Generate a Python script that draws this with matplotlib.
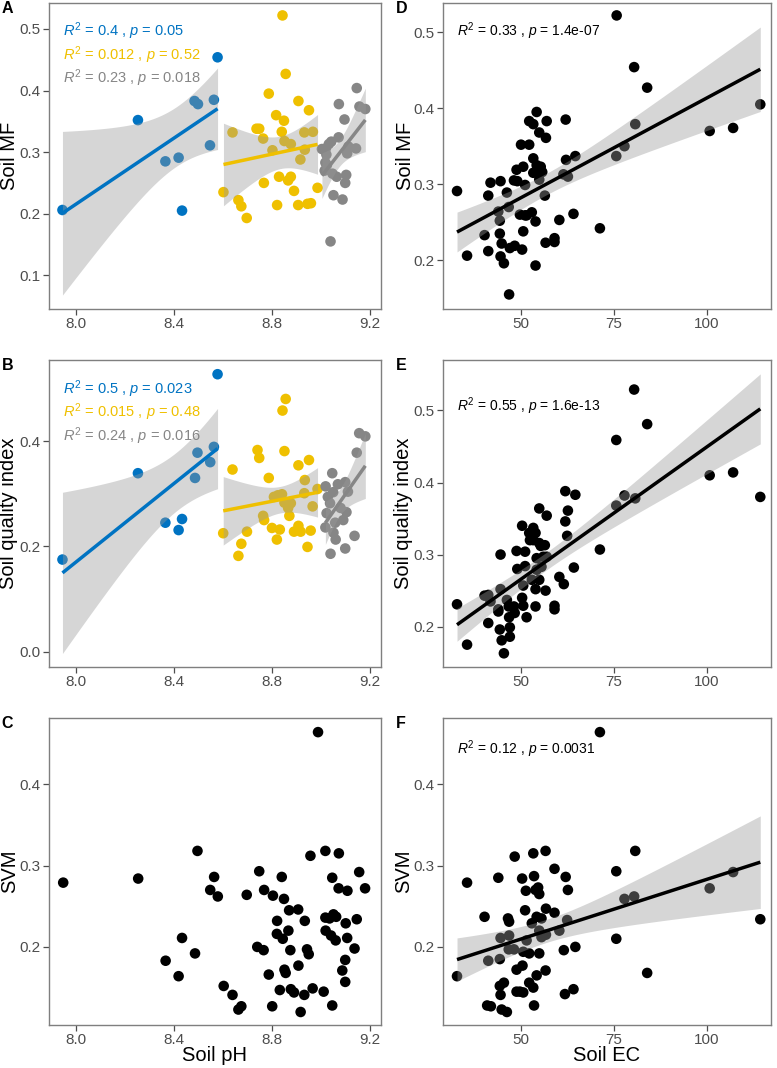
import numpy as np
import matplotlib
matplotlib.use("Agg")
import matplotlib.pyplot as plt

plt.rcParams['font.family'] = ['Liberation Sans', 'DejaVu Sans']
plt.rcParams['mathtext.fontset'] = 'custom'
plt.rcParams['mathtext.rm'] = 'Liberation Sans'
plt.rcParams['mathtext.it'] = 'Liberation Sans:italic'

# ---- panel A : soil pH vs soil MF (three pH groups) ----
ph_A_blue = [7.944, 8.252, 8.364, 8.418, 8.432, 8.483, 8.497, 8.546, 8.562, 8.577]
mf_A_blue = [0.206, 0.352, 0.285, 0.291, 0.205, 0.383, 0.378, 0.311, 0.385, 0.454]
ph_A_yel = [8.842, 8.855, 8.786, 8.907, 8.950, 8.816, 8.848, 8.736, 8.747, 8.839, 8.638,
            8.931, 8.966, 8.763, 8.850, 8.876, 8.801, 8.933, 8.915, 8.828, 8.876, 8.865,
            8.766, 8.889, 8.601, 8.985, 8.662, 8.674, 8.820, 8.906, 8.944, 8.958, 8.696]
mf_A_yel = [0.522, 0.427, 0.395, 0.383, 0.368, 0.360, 0.351, 0.338, 0.338, 0.333, 0.332,
            0.332, 0.333, 0.322, 0.318, 0.313, 0.303, 0.304, 0.288, 0.260, 0.260, 0.254,
            0.250, 0.237, 0.235, 0.242, 0.222, 0.212, 0.214, 0.214, 0.216, 0.217, 0.193]
ph_A_gry = [9.145, 9.072, 9.156, 9.180, 9.095, 9.071, 9.041, 9.031, 9.019, 9.003, 9.142, 9.111,
            9.106, 9.021, 9.017, 9.023, 9.014, 9.046, 9.063, 9.102, 9.098, 9.050, 9.087, 9.038]
mf_A_gry = [0.404, 0.378, 0.374, 0.370, 0.353, 0.324, 0.317, 0.313, 0.306, 0.305, 0.306, 0.309,
            0.298, 0.296, 0.283, 0.279, 0.270, 0.265, 0.260, 0.263, 0.250, 0.230, 0.223, 0.155]

# ---- panel B : soil pH vs soil quality index ----
ph_B_blue = [7.944, 8.252, 8.364, 8.418, 8.432, 8.485, 8.495, 8.547, 8.562, 8.577]
sqi_B_blue = [0.175, 0.339, 0.245, 0.231, 0.252, 0.330, 0.378, 0.360, 0.389, 0.527]
ph_B_yel = [8.855, 8.842, 8.740, 8.747, 8.850, 8.638, 8.950, 8.907, 8.786, 8.933, 8.985, 8.931,
            8.807, 8.823, 8.840, 8.850, 8.876, 8.865, 8.965, 8.763, 8.870, 8.767, 8.799, 8.831,
            8.600, 8.697, 8.889, 8.907, 8.916, 8.957, 8.674, 8.819, 8.944, 8.662]
sqi_B_yel = [0.480, 0.458, 0.383, 0.368, 0.381, 0.346, 0.364, 0.354, 0.330, 0.326, 0.309, 0.301,
             0.294, 0.297, 0.299, 0.283, 0.282, 0.273, 0.276, 0.258, 0.258, 0.250, 0.235, 0.232,
             0.225, 0.228, 0.228, 0.239, 0.228, 0.230, 0.205, 0.213, 0.199, 0.182]
ph_B_gry = [9.155, 9.180, 9.145, 9.045, 9.018, 9.068, 9.098, 9.109, 9.027, 9.036, 9.079,
            9.022, 9.103, 9.057, 9.090, 9.017, 9.050, 9.059, 9.136, 9.098, 9.038, 9.049]
sqi_B_gry = [0.415, 0.409, 0.378, 0.339, 0.314, 0.318, 0.322, 0.304, 0.294, 0.282, 0.273,
             0.263, 0.265, 0.245, 0.250, 0.236, 0.226, 0.213, 0.220, 0.196, 0.186, 0.303]

# ---- panel C : soil pH vs SVM ----
ph_C = [7.947, 8.253, 8.495, 8.563, 8.547, 8.578, 8.432, 8.485, 8.365, 8.418, 8.696, 8.602,
        8.638, 8.674, 8.662, 8.747, 8.767, 8.803, 8.839, 8.848, 8.869, 8.906, 8.933, 8.820,
        8.819, 8.843, 8.866, 8.739, 8.765, 8.874, 8.942, 8.949, 8.850, 8.855, 8.907, 8.786,
        8.831, 8.876, 8.889, 8.931, 8.965, 8.800, 8.916, 8.987, 8.956, 9.017, 9.072, 9.045,
        9.071, 9.107, 9.155, 9.179, 9.017, 9.034, 9.050, 9.061, 9.100, 9.145, 9.018, 9.040,
        9.059, 9.106, 9.136, 9.098, 9.086, 9.098, 9.010, 9.045]
svm_C = [0.279, 0.284, 0.318, 0.286, 0.270, 0.262, 0.211, 0.192, 0.183, 0.164, 0.264, 0.152,
         0.141, 0.127, 0.123, 0.293, 0.270, 0.263, 0.286, 0.259, 0.245, 0.246, 0.232, 0.232,
         0.216, 0.210, 0.220, 0.200, 0.196, 0.196, 0.197, 0.191, 0.172, 0.168, 0.177, 0.166,
         0.147, 0.148, 0.144, 0.141, 0.149, 0.127, 0.120, 0.464, 0.312, 0.318, 0.315, 0.285,
         0.272, 0.269, 0.292, 0.272, 0.236, 0.235, 0.240, 0.237, 0.229, 0.234, 0.220, 0.214,
         0.208, 0.211, 0.198, 0.184, 0.171, 0.157, 0.145, 0.128]

# ---- panel D : soil EC vs soil MF ----
ec_D = [32.9, 35.6, 40.3, 41.3, 41.3, 41.9, 44.6, 44.0, 44.4, 44.4, 44.9, 44.6, 45.5, 46.3,
        46.8, 47.1, 46.9, 48.2, 48.9, 49.1, 48.4, 50.4, 50.1, 52.3, 50.7, 51.2, 50.7, 49.8,
        51.2, 51.6, 53.0, 54.0, 54.0, 52.3, 53.4, 54.3, 55.0, 56.8, 57.0, 53.4, 54.3, 55.4,
        53.4, 54.7, 55.8, 55.0, 56.5, 56.7, 59.1, 59.1, 60.4, 62.1, 62.2, 61.5, 62.7, 64.7,
        64.2, 71.3, 75.7, 75.8, 77.9, 80.5, 80.8, 84.0, 100.8, 107.1, 114.4]
mf_D = [0.291, 0.206, 0.233, 0.285, 0.212, 0.302, 0.304, 0.264, 0.252, 0.235, 0.222, 0.205,
        0.196, 0.289, 0.270, 0.216, 0.155, 0.305, 0.319, 0.304, 0.219, 0.214, 0.352, 0.352,
        0.323, 0.299, 0.238, 0.260, 0.259, 0.259, 0.263, 0.251, 0.193, 0.383, 0.379, 0.395,
        0.368, 0.361, 0.383, 0.334, 0.325, 0.323, 0.315, 0.315, 0.316, 0.306, 0.285, 0.223,
        0.229, 0.224, 0.253, 0.385, 0.332, 0.313, 0.310, 0.337, 0.261, 0.242, 0.337, 0.522,
        0.350, 0.454, 0.379, 0.427, 0.370, 0.374, 0.405]

# ---- panel E : soil EC vs soil quality index ----
ec_E = [32.9, 35.6, 40.3, 41.3, 41.9, 41.3, 44.6, 44.6, 44.0, 44.0, 44.4, 44.9, 45.5, 46.3,
        46.8, 46.9, 47.1, 47.1, 48.2, 48.4, 48.9, 49.1, 50.4, 50.7, 50.4, 50.7, 51.2, 51.2,
        51.6, 52.3, 52.5, 53.0, 53.4, 53.4, 54.0, 54.0, 54.0, 54.3, 54.3, 55.0, 55.0, 55.0,
        55.4, 55.6, 56.1, 56.5, 56.7, 57.0, 57.0, 59.1, 59.1, 60.4, 61.6, 62.0, 62.0, 62.7,
        62.5, 64.7, 64.3, 71.3, 75.7, 75.7, 77.9, 80.5, 80.8, 84.0, 100.8, 107.1, 114.4]
sqi_E = [0.231, 0.175, 0.243, 0.244, 0.235, 0.205, 0.300, 0.252, 0.224, 0.221, 0.196, 0.181,
         0.163, 0.237, 0.228, 0.213, 0.199, 0.186, 0.228, 0.219, 0.305, 0.280, 0.240, 0.229,
         0.340, 0.257, 0.304, 0.284, 0.213, 0.330, 0.320, 0.265, 0.337, 0.320, 0.330, 0.228,
         0.252, 0.295, 0.279, 0.364, 0.316, 0.265, 0.312, 0.283, 0.297, 0.313, 0.250, 0.354,
         0.297, 0.229, 0.224, 0.269, 0.259, 0.388, 0.346, 0.361, 0.326, 0.383, 0.282, 0.307,
         0.459, 0.368, 0.382, 0.529, 0.378, 0.481, 0.410, 0.414, 0.380]

# ---- panel F : soil EC vs SVM ----
ec_F = [32.9, 35.6, 40.3, 41.3, 41.0, 42.0, 44.0, 44.6, 44.4, 44.4, 44.6, 45.5, 44.9, 46.3,
        46.6, 46.9, 46.9, 46.8, 48.2, 48.4, 48.9, 48.9, 50.4, 50.5, 50.7, 49.8, 50.7, 51.2,
        51.4, 51.6, 52.3, 52.3, 53.0, 53.4, 53.4, 53.6, 53.6, 54.0, 54.3, 54.3, 54.7, 55.0,
        55.0, 55.0, 55.6, 55.6, 56.7, 56.8, 56.8, 56.7, 59.1, 59.1, 60.4, 61.6, 62.1, 61.9,
        62.7, 62.5, 64.2, 64.7, 71.3, 75.7, 75.7, 77.9, 80.5, 80.8, 84.0, 100.8, 107.1, 114.4]
svm_F = [0.164, 0.279, 0.237, 0.183, 0.128, 0.127, 0.285, 0.211, 0.185, 0.152, 0.141, 0.156,
         0.123, 0.120, 0.235, 0.231, 0.214, 0.197, 0.197, 0.311, 0.172, 0.145, 0.284, 0.177,
         0.194, 0.145, 0.144, 0.245, 0.269, 0.208, 0.192, 0.156, 0.229, 0.315, 0.150, 0.128,
         0.287, 0.270, 0.237, 0.165, 0.273, 0.265, 0.220, 0.192, 0.235, 0.212, 0.318, 0.215,
         0.247, 0.171, 0.296, 0.242, 0.220, 0.196, 0.286, 0.142, 0.270, 0.233, 0.148, 0.200,
         0.464, 0.293, 0.210, 0.259, 0.262, 0.318, 0.168, 0.272, 0.292, 0.234]

# stat labels as printed on the figure
lab_A = [('0.4', '0.05'), ('0.012', '0.52'), ('0.23', '0.018')]
lab_B = [('0.5', '0.023'), ('0.015', '0.48'), ('0.24', '0.016')]
lab_D = ('0.33', '1.4e-07')
lab_E = ('0.55', '1.6e-13')
lab_F = ('0.12', '0.0031')

BLUE, YEL, GRY = '#0073C2', '#EFC000', '#868686'
W, H = 777, 1068


def tcrit(df):
    # 97.5% quantile of Student t (Cornish-Fisher expansion)
    z = 1.959964
    return (z + (z**3 + z) / (4 * df) + (5 * z**5 + 16 * z**3 + 3 * z) / (96 * df**2)
            + (3 * z**7 + 19 * z**5 + 17 * z**3 - 15 * z) / (384 * df**3))


def smooth(ax, x, y, color):
    x = np.asarray(x); y = np.asarray(y)
    n = len(x)
    b, a = np.polyfit(x, y, 1)
    res = y - (a + b * x)
    s = np.sqrt(np.sum(res**2) / (n - 2))
    sxx = np.sum((x - x.mean())**2)
    xs = np.linspace(x.min(), x.max(), 80)
    ys = a + b * xs
    se = s * np.sqrt(1 / n + (xs - x.mean())**2 / sxx)
    t = tcrit(n - 2)
    ax.fill_between(xs, ys - t * se, ys + t * se, color='#999999', alpha=0.4, lw=0, zorder=3)
    ax.plot(xs, ys, color=color, lw=2.5, zorder=4, solid_capstyle='butt')


def stat_text(r2, p):
    return r'$\mathit{R}^{2}$ = ' + r2 + r' , $\mathit{p}$ = ' + p


def make_ax(fig, left, top, right, bottom):
    ax = fig.add_axes([left / W, 1 - bottom / H, (right - left) / W, (bottom - top) / H])
    for sp in ax.spines.values():
        sp.set_color('#7F7F7F')
        sp.set_linewidth(1.0)
    ax.tick_params(axis='both', colors='#4D4D4D', labelsize=11, length=4, width=0.9, pad=2)
    ax.set_facecolor('white')
    return ax


fig = plt.figure(figsize=(W / 100, H / 100), dpi=100)

L1, R1, L2, R2 = 48.5, 381.0, 442.5, 770.7
rows = [(2.5, 308.5), (360.0, 666.7), (718.3, 1025.0)]
PT = 58

axA = make_ax(fig, L1, rows[0][0], R1, rows[0][1])
axB = make_ax(fig, L1, rows[1][0], R1, rows[1][1])
axC = make_ax(fig, L1, rows[2][0], R1, rows[2][1])
axD = make_ax(fig, L2, rows[0][0], R2, rows[0][1])
axE = make_ax(fig, L2, rows[1][0], R2, rows[1][1])
axF = make_ax(fig, L2, rows[2][0], R2, rows[2][1])

# grouped pH panels
for ax, groups, labs in [
    (axA, [(ph_A_blue, mf_A_blue, BLUE), (ph_A_yel, mf_A_yel, YEL), (ph_A_gry, mf_A_gry, GRY)], lab_A),
    (axB, [(ph_B_blue, sqi_B_blue, BLUE), (ph_B_yel, sqi_B_yel, YEL), (ph_B_gry, sqi_B_gry, GRY)], lab_B),
]:
    for x, y, c in groups:
        ax.scatter(x, y, s=PT, color=c, edgecolors='none', zorder=2)
    for x, y, c in groups:
        smooth(ax, x, y, c)
    for i, ((x, y, c), (r2, p)) in enumerate(zip(groups, labs)):
        ax.text(0.045, 0.905 - i * 0.076, stat_text(r2, p), color=c, fontsize=10.5,
                transform=ax.transAxes, va='center', ha='left')

axC.scatter(ph_C, svm_C, s=PT, color='black', edgecolors='none', zorder=2)

for ax, x, y, lab in [(axD, ec_D, mf_D, lab_D), (axE, ec_E, sqi_E, lab_E), (axF, ec_F, svm_F, lab_F)]:
    ax.scatter(x, y, s=PT, color='black', edgecolors='none', zorder=2)
    smooth(ax, x, y, 'black')
    ax.text(0.044, 0.905, stat_text(*lab), color='black', fontsize=10,
            transform=ax.transAxes, va='center', ha='left')
axE.texts[0].set_y(0.85)
axF.texts[0].set_y(0.90)

# axes ranges and ticks
for ax in (axA, axB, axC):
    ax.set_xlim(7.887, 9.244)
    ax.set_xticks([8.0, 8.4, 8.8, 9.2])
    ax.set_xticklabels(['8.0', '8.4', '8.8', '9.2'])
for ax in (axD, axE, axF):
    ax.set_xlim(29.0, 117.2)
    ax.set_xticks([50, 75, 100])

axA.set_ylim(0.046, 0.543)
axA.set_yticks([0.1, 0.2, 0.3, 0.4, 0.5])
axB.set_ylim(-0.0285, 0.554)
axB.set_yticks([0.0, 0.2, 0.4])
axC.set_ylim(0.104, 0.481)
axC.set_yticks([0.2, 0.3, 0.4])
axD.set_ylim(0.1365, 0.539)
axD.set_yticks([0.2, 0.3, 0.4, 0.5])
axE.set_ylim(0.1444, 0.570)
axE.set_yticks([0.2, 0.3, 0.4, 0.5])
axF.set_ylim(0.104, 0.481)
axF.set_yticks([0.2, 0.3, 0.4])

for ax, lab, xc in [(axA, 'Soil MF', -0.116), (axB, 'Soil quality index', -0.119), (axC, 'SVM', -0.117),
                    (axD, 'Soil MF', -0.114), (axE, 'Soil quality index', -0.118), (axF, 'SVM', -0.118)]:
    ax.set_ylabel(lab, fontsize=14.5, va='center')
    ax.yaxis.set_label_coords(xc, 0.5)

axC.set_xlabel('Soil pH', fontsize=14.5, va='center')
axC.xaxis.set_label_coords(0.5, -0.101)
axF.set_xlabel('Soil EC', fontsize=14.5, va='center')
axF.xaxis.set_label_coords(0.5, -0.101)

# panel letters
for lab, x, y in [('A', 7.5, 8.3), ('B', 7.5, 365.8), ('C', 7.0, 724.0),
                  ('D', 401.5, 8.3), ('E', 401.5, 365.8), ('F', 401.0, 724.0)]:
    fig.text(x / W, 1 - y / H, lab, fontsize=11.5, fontweight='bold', ha='center', va='center')

fig.savefig('out.png', dpi=100)
